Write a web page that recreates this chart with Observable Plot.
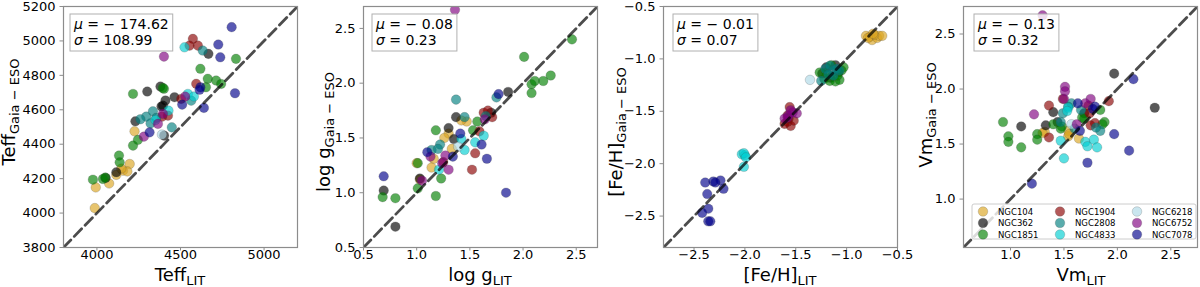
<!DOCTYPE html>
<html><head><meta charset="utf-8">
<script src="https://cdn.jsdelivr.net/npm/d3@7"></script>
<script src="https://cdn.jsdelivr.net/npm/@observablehq/plot@0.6"></script>
<style>
body{margin:0;background:#fff;}
#row{display:flex;width:1200px;height:287px;}
#row > div{width:300px;height:287px;}
svg text{font-family:"DejaVu Sans",sans-serif;}
</style></head><body><div id="row"></div>
<script>
const clusters = ["NGC104","NGC362","NGC1851","NGC1904","NGC2808","NGC4833","NGC6218","NGC6752","NGC7078"];
const clusterColors = ["#DAA520","#000000","#008000","#8B0000","#008080","#00CED1","#ADD8E6","#800080","#00008B"];

// Panel 1: Teff (LIT, Gaia-ESO)
const teffPts = [
 ["NGC104",3987,4029],["NGC104",3993,4149],["NGC104",4073,4172],["NGC104",4116,4222],["NGC104",4156,4246],["NGC104",4196,4285],["NGC104",4182,4242],["NGC104",4146,4258],["NGC104",4225,4475],
 ["NGC362",4052,4204],["NGC362",4116,4237],["NGC362",4230,4533],["NGC362",4301,4706],["NGC362",4380,4735],["NGC362",4464,4673],["NGC362",4395,4624],["NGC362",4410,4654],["NGC362",4402,4450],["NGC362",4667,4925],["NGC362",4386,4619],
 ["NGC1851",3976,4194],["NGC1851",4036,4198],["NGC1851",4050,4206],["NGC1851",4132,4334],["NGC1851",4136,4295],["NGC1851",4216,4392],["NGC1851",4245,4425],["NGC1851",4216,4692],["NGC1851",4394,4727],["NGC1851",4401,4722],["NGC1851",4619,4838],["NGC1851",4663,4780],["NGC1851",4652,4731],["NGC1851",4713,4770],["NGC1851",4743,4750],["NGC1851",4832,4896],
 ["NGC1904",4574,5012],["NGC1904",4604,4973],["NGC1904",4554,4973],["NGC1904",4594,4751],["NGC1904",4425,4566],["NGC1904",4504,4663],["NGC1904",4390,4560],
 ["NGC2808",4633,4944],["NGC2808",4295,4560],["NGC2808",4335,4591],["NGC2808",4355,4553],["NGC2808",4321,4521],["NGC2808",4448,4498],["NGC2808",4564,4653],["NGC2808",4260,4545],
 ["NGC4833",4524,4963],["NGC4833",4544,4692],["NGC4833",4580,4677],["NGC4833",4428,4595],["NGC4833",4350,4540],
 ["NGC6218",4389,4456],
 ["NGC6752",4401,4909],["NGC6752",4395,4576],["NGC6752",4365,4518],["NGC6752",4281,4444],["NGC6752",4528,4677],
 ["NGC7078",4806,5080],["NGC7078",4726,4979],["NGC7078",4738,4905],["NGC7078",4826,4696],["NGC7078",4640,4611],["NGC7078",4510,4630],["NGC7078",4619,4731],["NGC7078",4614,4716],["NGC7078",4315,4469]
];

// Panel 2: log g
const loggPts = [
 ["NGC104",1.47,1.65],["NGC104",1.42,1.66],["NGC104",1.30,1.54],["NGC104",1.26,1.50],["NGC104",1.16,1.31],["NGC104",1.00,1.27],["NGC104",1.03,1.12],["NGC104",1.14,1.23],["NGC104",1.33,1.40],
 ["NGC362",1.37,1.69],["NGC362",1.30,1.59],["NGC362",1.35,1.49],["NGC362",1.03,1.13],["NGC362",0.69,1.02],["NGC362",0.80,0.69],["NGC362",1.86,1.92],["NGC362",1.70,1.73],
 ["NGC1851",1.57,1.65],["NGC1851",1.53,1.57],["NGC1851",1.18,1.57],["NGC1851",1.01,1.27],["NGC1851",1.23,1.13],["NGC1851",1.01,1.04],["NGC1851",0.68,0.96],["NGC1851",0.80,0.95],["NGC1851",1.18,0.97],["NGC1851",2.01,2.24],["NGC1851",2.08,1.99],["NGC1851",2.11,2.02],["NGC1851",2.08,1.91],["NGC1851",2.19,2.02],["NGC1851",2.26,2.07],["NGC1851",2.46,2.40],
 ["NGC1904",1.63,1.73],["NGC1904",1.67,1.75],["NGC1904",1.71,1.69],["NGC1904",1.59,1.56],["NGC1904",1.25,1.28],["NGC1904",1.55,1.36],["NGC1904",1.52,1.21],
 ["NGC2808",1.37,1.85],["NGC2808",1.45,1.69],["NGC2808",1.75,1.87],["NGC2808",1.22,1.44],["NGC2808",1.14,1.39],["NGC2808",1.20,1.40],["NGC2808",1.65,1.70],
 ["NGC4833",1.55,1.46],["NGC4833",1.63,1.52],["NGC4833",1.45,1.39],["NGC4833",1.21,1.21],["NGC4833",1.42,1.49],
 ["NGC6218",1.39,1.42],
 ["NGC6752",1.36,2.67],["NGC6752",1.64,1.67],["NGC6752",1.13,1.33],["NGC6752",1.27,1.34],["NGC6752",1.30,1.21],["NGC6752",1.05,1.11],["NGC6752",1.24,1.27],
 ["NGC7078",1.77,1.90],["NGC7078",1.41,1.54],["NGC7078",1.61,1.44],["NGC7078",1.10,1.37],["NGC7078",1.34,1.33],["NGC7078",1.66,1.31],["NGC7078",0.69,1.15],["NGC7078",1.84,1.00]
];

// Panel 3: [Fe/H]
const fehPts = [
 ["NGC104",-0.81,-0.78],["NGC104",-0.77,-0.79],["NGC104",-0.75,-0.82],["NGC104",-0.70,-0.80],["NGC104",-0.68,-0.78],["NGC104",-0.65,-0.78],["NGC104",-0.73,-0.77],["NGC104",-0.79,-0.80],["NGC104",-0.74,-0.76],
 ["NGC362",-1.24,-1.14],["NGC362",-1.20,-1.08],["NGC362",-1.11,-1.06],["NGC362",-1.08,-1.13],["NGC362",-1.16,-1.18],
 ["NGC1851",-1.265,-1.13],["NGC1851",-1.22,-1.19],["NGC1851",-1.165,-1.21],["NGC1851",-1.11,-1.215],["NGC1851",-1.07,-1.20],["NGC1851",-1.05,-1.11],["NGC1851",-1.03,-1.08],["NGC1851",-1.09,-1.16],["NGC1851",-1.15,-1.06],["NGC1851",-1.20,-1.13],
 ["NGC1904",-1.56,-1.46],["NGC1904",-1.58,-1.54],["NGC1904",-1.58,-1.60],["NGC1904",-1.55,-1.64],["NGC1904",-1.61,-1.62],["NGC1904",-1.52,-1.59],["NGC1904",-1.57,-1.57],
 ["NGC2808",-1.25,-1.21],["NGC2808",-1.21,-1.095],["NGC2808",-1.165,-1.065],["NGC2808",-1.13,-1.11],["NGC2808",-1.10,-1.095],["NGC2808",-1.18,-1.15],["NGC2808",-1.13,-1.16],["NGC2808",-1.07,-1.11],
 ["NGC4833",-2.03,-1.91],["NGC4833",-2.00,-1.92],["NGC4833",-2.01,-1.90],["NGC4833",-2.01,-2.03],["NGC4833",-1.99,-1.94],
 ["NGC6218",-1.36,-1.20],
 ["NGC6752",-1.58,-1.56],["NGC6752",-1.53,-1.51],["NGC6752",-1.49,-1.52],["NGC6752",-1.57,-1.54],["NGC6752",-1.61,-1.57],["NGC6752",-1.55,-1.49],
 ["NGC7078",-2.39,-2.18],["NGC7078",-2.31,-2.17],["NGC7078",-2.24,-2.16],["NGC7078",-2.21,-2.24],["NGC7078",-2.37,-2.29],["NGC7078",-2.36,-2.43],["NGC7078",-2.42,-2.47],["NGC7078",-2.36,-2.55],["NGC7078",-2.34,-2.55],["NGC7078",-2.29,-2.18]
];

// Panel 4: Vm
const vmPts = [
 ["NGC104",1.32,1.61],["NGC104",1.54,1.62],["NGC104",1.54,1.57],["NGC104",1.64,1.55],["NGC104",1.55,1.59],["NGC104",1.30,1.60],
 ["NGC362",1.97,2.14],["NGC362",1.40,1.79],["NGC362",1.10,1.66],["NGC362",1.33,1.67],["NGC362",1.44,1.70],["NGC362",2.35,1.83],["NGC362",1.69,1.78],
 ["NGC1851",0.93,1.70],["NGC1851",0.98,1.57],["NGC1851",0.98,1.52],["NGC1851",1.10,1.47],["NGC1851",1.25,1.59],["NGC1851",1.25,1.54],["NGC1851",1.40,1.68],["NGC1851",1.48,1.66],["NGC1851",1.69,1.73],["NGC1851",1.84,1.81],["NGC1851",1.88,1.70],["NGC1851",1.86,1.68],["NGC1851",1.47,1.64],["NGC1851",1.67,1.74],
 ["NGC1904",1.36,1.85],["NGC1904",1.49,1.91],["NGC1904",1.36,1.56],["NGC1904",1.74,1.78],["NGC1904",1.73,1.85],["NGC1904",1.92,1.89],["NGC1904",1.79,1.69],["NGC1904",1.75,1.67],
 ["NGC2808",1.49,1.78],["NGC2808",1.54,1.84],["NGC2808",1.57,1.87],["NGC2808",1.66,1.81],["NGC2808",1.84,1.62],["NGC2808",1.47,1.70],["NGC2808",1.60,1.64],["NGC2808",1.80,1.65],
 ["NGC4833",1.54,1.83],["NGC4833",1.47,1.53],["NGC4833",1.50,1.37],["NGC4833",1.70,1.52],["NGC4833",1.72,1.48],["NGC4833",1.78,1.54],["NGC4833",1.81,1.47],["NGC4833",1.53,1.80],
 ["NGC6218",1.57,1.68],
 ["NGC6752",1.30,2.67],["NGC6752",1.22,1.77],["NGC6752",1.51,2.02],["NGC6752",1.51,1.98],["NGC6752",1.50,1.91],["NGC6752",1.75,1.91],["NGC6752",1.62,1.68],["NGC6752",1.70,1.87],
 ["NGC7078",1.20,1.14],["NGC7078",1.72,1.33],["NGC7078",1.97,1.59],["NGC7078",2.11,1.44],["NGC7078",2.15,2.09],["NGC7078",1.79,1.84],["NGC7078",1.63,1.87],["NGC7078",1.65,1.62],["NGC7078",1.77,1.82]
];

const teffTicksX = [4000,4500,5000];
const teffTicksY = [3800,4000,4200,4400,4600,4800,5000,5200];
const loggTicks = [0.5,1.0,1.5,2.0,2.5];
const fehTicks = [-2.5,-2.0,-1.5,-1.0,-0.5];
const vmTicks = [1.0,1.5,2.0,2.5];

const panels = [
 {data:teffPts, domain:[3800,5200], tx:teffTicksX, ty:teffTicksY, fmt:d3.format("d"), main:"Teff", mu:"174.62", sigma:"108.99", ylx:15, yly:112, xlx:180, bx:70},
 {data:loggPts, domain:[0.5,2.7], tx:loggTicks, ty:loggTicks, fmt:d3.format(".1f"), main:"log g", mu:"0.08", sigma:"0.23", ylx:30, yly:132, xlx:180, bx:72},
 {data:fehPts, domain:[-2.8,-0.5], tx:fehTicks, ty:fehTicks, fmt:d3.format(".1f"), main:"[Fe/H]", mu:"0.01", sigma:"0.07", ylx:22, yly:132, xlx:180, bx:73},
 {data:vmPts, domain:[0.56,2.75], tx:vmTicks, ty:vmTicks, fmt:d3.format(".1f"), main:"Vm", mu:"0.13", sigma:"0.32", ylx:32, yly:115, xlx:181, bx:74, legend:true}
];

const row = document.getElementById("row");
panels.forEach(p => {
  const pts = p.data.map(([c,x,y]) => ({c,x,y}));
  const [lo,hi] = p.domain;
  const chart = Plot.plot({
    width:300, height:287, marginLeft:63, marginRight:3, marginTop:6, marginBottom:40,
    style:{fontFamily:"DejaVu Sans", fontSize:"13px", background:"transparent", color:"black", overflow:"visible"},
    x:{domain:p.domain, label:null},
    y:{domain:p.domain, label:null},
    color:{domain:clusters, range:clusterColors},
    marks:[
      Plot.dot(pts, {x:"x", y:"y", fill:"c", fillOpacity:0.65, r:4.8, stroke:"#444", strokeOpacity:0.35, strokeWidth:0.6, clip:true}),
      Plot.line([[lo,lo],[hi,hi]], {x:d=>d[0], y:d=>d[1], stroke:"#000", strokeOpacity:0.7, strokeWidth:2.8, strokeDasharray:"10.5,5", clip:true}),
      Plot.frame({stroke:"#8c8c8c", strokeWidth:1.2}),
      Plot.axisX({ticks:p.tx, tickFormat:p.fmt, tickSize:3.5, tickPadding:-1.5, stroke:"#8c8c8c", fill:"black", label:null}),
      Plot.axisY({ticks:p.ty, tickFormat:p.fmt, tickSize:3.5, tickPadding:4.5, stroke:"#8c8c8c", fill:"black", label:null})
    ]
  });
  const div = document.createElement("div");
  div.appendChild(chart);
  row.appendChild(div);
  const svg = d3.select(chart);

  // y label
  const yl = svg.append("text").attr("transform", `translate(${p.ylx},${p.yly}) rotate(-90)`)
    .attr("text-anchor","middle").attr("font-size","18px").attr("fill","black");
  yl.append("tspan").text(p.main);
  yl.append("tspan").attr("dy","0.28em").attr("font-size","13px").text("Gaia − ESO");
  // x label
  const xl = svg.append("text").attr("x", p.xlx).attr("y", 281)
    .attr("text-anchor","middle").attr("font-size","18px").attr("fill","black");
  xl.append("tspan").text(p.main);
  xl.append("tspan").attr("dy","0.28em").attr("font-size","13px").text("LIT");

  // stats box
  const g = svg.append("g");
  const rect = g.append("rect").attr("x",p.bx).attr("y",14).attr("height",37)
    .attr("fill","white").attr("fill-opacity",0.8).attr("stroke","#b0b0b0").attr("stroke-width",1);
  const t1 = g.append("text").attr("x",p.bx+4).attr("y",29).attr("text-anchor","start").attr("font-size","14px").attr("fill","black");
  t1.append("tspan").attr("font-style","italic").text("μ");
  t1.append("tspan").text(" = − " + p.mu);
  const t2 = g.append("text").attr("x",p.bx+4).attr("y",45).attr("text-anchor","start").attr("font-size","14px").attr("fill","black");
  t2.append("tspan").attr("font-style","italic").text("σ");
  t2.append("tspan").text(" = " + p.sigma);
  const w = Math.max(t1.node().getComputedTextLength(), t2.node().getComputedTextLength());
  rect.attr("width", w + 8);

  if (p.legend) {
    const lg = svg.append("g");
    lg.append("rect").attr("x",72).attr("y",204).attr("width",224).attr("height",35).attr("rx",2)
      .attr("fill","white").attr("fill-opacity",0.8).attr("stroke","#cccccc").attr("stroke-width",1);
    clusters.forEach((c,i) => {
      const col = Math.floor(i/3), r = i%3;
      const cx = 83 + col*77, cy = 211.5 + r*11.5;
      lg.append("circle").attr("cx",cx).attr("cy",cy).attr("r",4.8)
        .attr("fill",clusterColors[i]).attr("fill-opacity",0.65)
        .attr("stroke","#444").attr("stroke-opacity",0.35).attr("stroke-width",0.6);
      lg.append("text").attr("x",cx+15).attr("y",cy+3).attr("text-anchor","start").attr("font-size","8.5px").attr("fill","black").text(c);
    });
  }
});
</script>
</body></html>
